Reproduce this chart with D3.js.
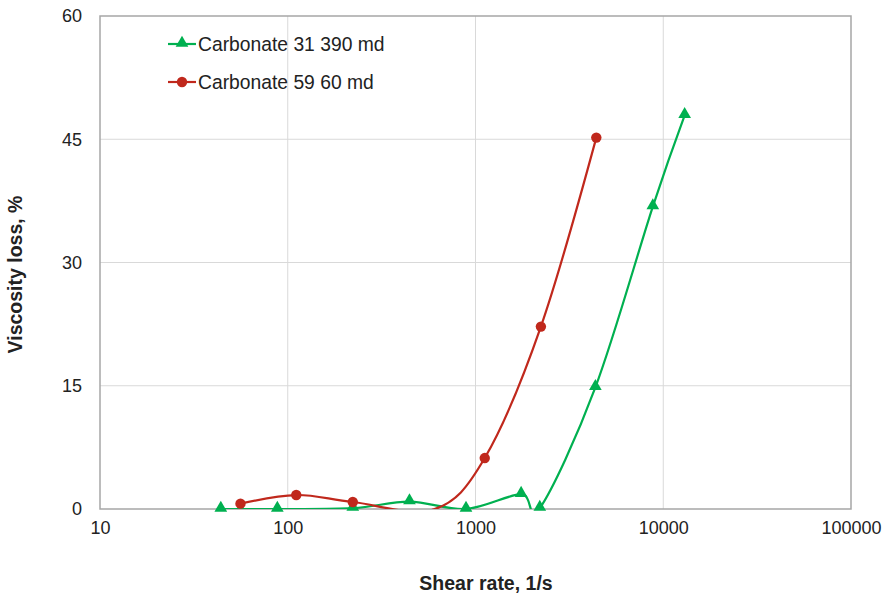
<!DOCTYPE html>
<html lang="en">
<meta charset="utf-8">
<title>Viscosity loss vs shear rate</title>
<style>
	body { margin: 0; background: #fff; font-family: "Liberation Sans", Arial, sans-serif; }
	.tick text { font-size: 18px; fill: #222; font-family: "Liberation Sans", Arial, sans-serif; }
	.grid line { stroke: #d9d9d9; stroke-width: 1; }
	.title { font-size: 19.5px; font-weight: bold; fill: #222; }
	.legend text { font-size: 19.3px; fill: #222; }
</style>
<body>
<script src="https://d3js.org/d3.v7.min.js"></script>
<svg class="chart"></svg>
<script>
	// data
	var greenRate = [44, 88, 222, 445, 890, 1750, 2200, 4350, 8800, 13000];
	var greenLoss = [0, 0, 0.1, 0.9, 0, 1.8, 0.1, 14.8, 36.8, 47.9];
	// the 600 point sits just under the axis: only its line shows, no marker
	var redRate = [56, 111, 222, 600, 1120, 2230, 4400];
	var redLoss = [0.65, 1.7, 0.85, -0.05, 6.2, 22.2, 45.2];
	var seriesNames = ["Carbonate 31 390 md", "Carbonate 59 60 md"];
	var xTicks = [10, 100, 1000, 10000, 100000];
	var yTicks = [0, 15, 30, 45, 60];

	var margin = {top: 16, right: 35, bottom: 89, left: 100},
	    width = 886 - margin.left - margin.right,
	    height = 598 - margin.top - margin.bottom;

	var svg = d3.select(".chart")
	    .attr("width", 886)
	    .attr("height", 598)
	  .append("g")
	    .attr("transform", "translate(" + margin.left + "," + margin.top + ")");

	var x = d3.scaleLog().domain([10, 100000]).range([0, width]);
	var y = d3.scaleLinear().domain([0, 60]).range([height, 0]);

	// gridlines
	svg.append("g").attr("class", "grid")
	  .selectAll("line").data(xTicks.slice(1, -1)).enter().append("line")
	    .attr("x1", function(d) { return x(d); }).attr("x2", function(d) { return x(d); })
	    .attr("y1", 0).attr("y2", height);
	svg.append("g").attr("class", "grid")
	  .selectAll("line").data(yTicks.slice(1, -1)).enter().append("line")
	    .attr("y1", function(d) { return y(d); }).attr("y2", function(d) { return y(d); })
	    .attr("x1", 0).attr("x2", width);

	// plot border
	svg.append("rect")
	    .attr("width", width).attr("height", height)
	    .attr("fill", "none").attr("stroke", "#a6a6a6").attr("stroke-width", 1.5);

	// axes
	var xAxis = d3.axisBottom(x).tickValues(xTicks).tickFormat(d3.format("d")).tickSize(0).tickPadding(12);
	var gx = svg.append("g").attr("transform", "translate(0," + height + ")").call(xAxis);
	gx.select(".domain").remove();

	var yAxis = d3.axisLeft(y).tickValues(yTicks).tickSize(0).tickPadding(18);
	var gy = svg.append("g").call(yAxis);
	gy.select(".domain").remove();

	svg.append("text").attr("class", "title")
	    .attr("text-anchor", "middle")
	    .attr("x", 386).attr("y", height + 81)
	    .text("Shear rate, 1/s");

	svg.append("text").attr("class", "title")
	    .attr("text-anchor", "middle")
	    .attr("transform", "translate(" + (-78) + "," + (height / 2 + 12) + ") rotate(-90)")
	    .text("Viscosity loss, %");

	// clip for smoothed lines
	svg.append("clipPath").attr("id", "clip")
	  .append("rect").attr("width", width).attr("height", height);

	var line = d3.line()
	    .x(function(d) { return x(d[0]); })
	    .y(function(d) { return y(d[1]); })
	    .curve(d3.curveCardinal.tension(0));

	var green = d3.zip(greenRate, greenLoss);
	var red = d3.zip(redRate, redLoss);
	var greenCol = "#00b050", redCol = "#c0281c";
	var inRange = function(d) { return d[1] >= 0; };

	svg.append("path").datum(green)
	    .attr("clip-path", "url(#clip)")
	    .attr("fill", "none").attr("stroke", greenCol).attr("stroke-width", 2.2)
	    .attr("d", line);
	svg.append("path").datum(red)
	    .attr("clip-path", "url(#clip)")
	    .attr("fill", "none").attr("stroke", redCol).attr("stroke-width", 2.2)
	    .attr("d", line);

	var tri = d3.symbol().type(d3.symbolTriangle).size(70);
	svg.selectAll(".gm").data(green.filter(inRange)).enter().append("path")
	    .attr("class", "gm")
	    .attr("transform", function(d) { return "translate(" + x(d[0]) + "," + (y(d[1]) - 1) + ")"; })
	    .attr("d", tri).attr("fill", greenCol);
	svg.selectAll(".rm").data(red.filter(inRange)).enter().append("circle")
	    .attr("class", "rm")
	    .attr("cx", function(d) { return x(d[0]); })
	    .attr("cy", function(d) { return y(d[1]); })
	    .attr("r", 5.2).attr("fill", redCol);

	// legend
	var leg = svg.append("g").attr("class", "legend").attr("transform", "translate(68,28)");
	var items = leg.selectAll("g").data(seriesNames).enter().append("g")
	    .attr("transform", function(d, i) { return "translate(0," + (i * 38) + ")"; });
	items.append("line").attr("x1", 0).attr("x2", 28)
	    .attr("stroke", function(d, i) { return i ? redCol : greenCol; }).attr("stroke-width", 2.2);
	items.each(function(d, i) {
		var g = d3.select(this);
		if (i) g.append("circle").attr("cx", 14).attr("r", 5.2).attr("fill", redCol);
		else g.append("path").attr("d", tri).attr("transform", "translate(14,-1)").attr("fill", greenCol);
	});
	items.append("text").attr("x", 30).attr("dy", "0.35em").text(function(d) { return d; });
</script>
</body>
</html>
